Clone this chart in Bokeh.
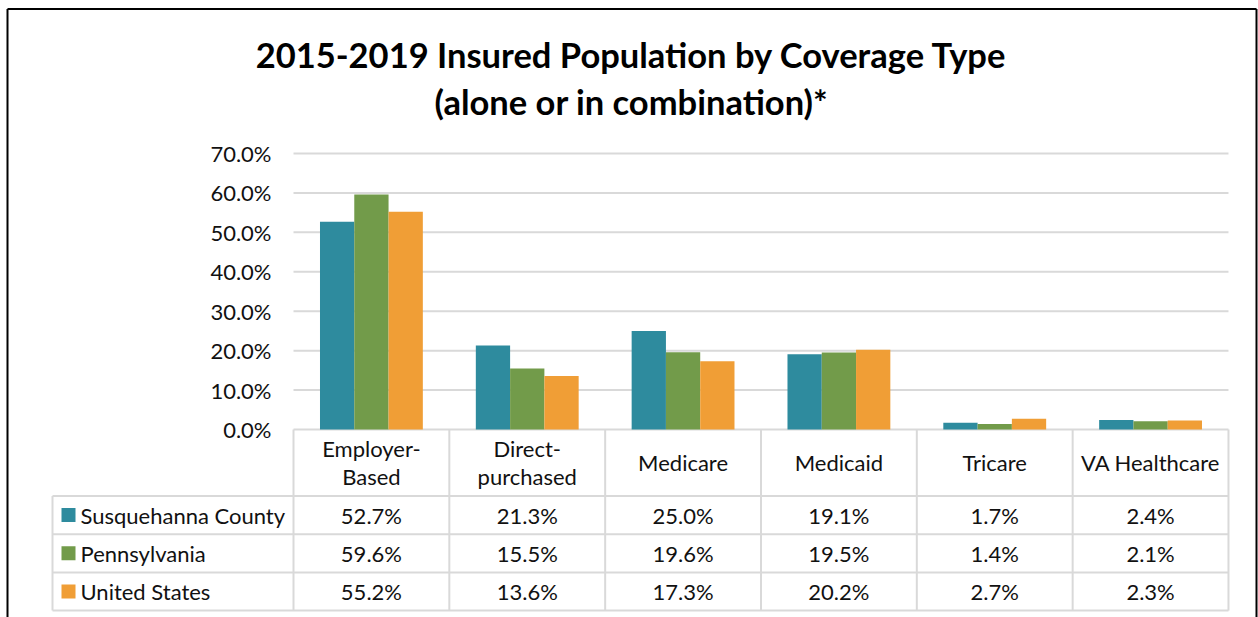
from bokeh.plotting import figure
from bokeh.models import Range1d, FixedTicker, NumeralTickFormatter
from bokeh.core.properties import value
from bokeh.embed import file_html
from bokeh.resources import INLINE

# ---------------- data ----------------
title_lines = ["2015-2019 Insured Population by Coverage Type", "(alone or in combination)*"]
categories = ["Employer-\nBased", "Direct-\npurchased", "Medicare", "Medicaid", "Tricare", "VA Healthcare"]
series_names = ["Susquehanna County", "Pennsylvania", "United States"]
susquehanna = [52.7, 21.3, 25.0, 19.1, 1.7, 2.4]
pennsylvania = [59.6, 15.5, 19.6, 19.5, 1.4, 2.1]
united_states = [55.2, 13.6, 17.3, 20.2, 2.7, 2.3]
y_ticks = [0.0, 0.1, 0.2, 0.3, 0.4, 0.5, 0.6, 0.7]

series_values = [susquehanna, pennsylvania, united_states]
colors = ["#2E8B9E", "#729B4A", "#F09E36"]

# ---------------- layout (pixels) ----------------
W, H = 1258, 617
col_left = 293.0
col_w = 155.83
zero_y = 429.0
px_per_unit = 276.0 / 0.7   # 0 -> 429, 0.7 -> 153
header_bottom = 495.5
row_h = 38.2
legend_left = 52.0
FONT = value("Lato")
FS = "22px"
TXT = "#111111"
GRID = "#D9D9D9"

n = len(categories)
x_start = (0 - col_left) / col_w
x_end = (W - col_left) / col_w
y_start = (zero_y - H) / px_per_unit
y_end = zero_y / px_per_unit

p = figure(width=W, height=H, title=None,
           x_range=Range1d(x_start, x_end), y_range=Range1d(y_start, y_end),
           output_backend="svg", toolbar_location=None, min_border=0)
p.extra_x_ranges = {"px": Range1d(0, W)}
p.extra_y_ranges = {"px": Range1d(H, 0)}
p.outline_line_color = None
p.background_fill_color = "white"
p.border_fill_color = "white"
p.xgrid.visible = False
p.ygrid.visible = False
p.xaxis.visible = False

yax = p.yaxis[0]
yax.fixed_location = 0
yax.ticker = FixedTicker(ticks=y_ticks)
yax.formatter = NumeralTickFormatter(format="0.0%")
yax.axis_line_color = None
yax.major_tick_line_color = None
yax.minor_tick_line_color = None
yax.major_tick_out = 0
yax.major_label_standoff = 22
yax.major_label_text_font = "Lato"
yax.major_label_text_font_size = FS
yax.major_label_text_color = TXT

# gridlines across the plot columns only
p.segment(x0=[0] * len(y_ticks), x1=[n] * len(y_ticks), y0=y_ticks, y1=y_ticks,
          line_color=GRID, line_width=2)

# bars
offsets = [-0.22, 0.0, 0.22]
for vals, off, col in zip(series_values, offsets, colors):
    p.vbar(x=[i + 0.5 + off for i in range(n)], top=[v / 100 for v in vals],
           width=0.22, bottom=0, fill_color=col, line_color=None)

# ---------------- data table ----------------
col_edges = [col_left + i * col_w for i in range(n + 1)]
row_lines = [header_bottom + k * row_h for k in range(len(series_names) + 1)]
bottom = row_lines[-1]

p.segment(x0=col_edges, x1=col_edges, y0=[zero_y] * len(col_edges), y1=[bottom] * len(col_edges),
          line_color=GRID, line_width=2, x_range_name="px", y_range_name="px")
p.segment(x0=[legend_left], x1=[legend_left], y0=[header_bottom], y1=[bottom],
          line_color=GRID, line_width=2, x_range_name="px", y_range_name="px")
p.segment(x0=[legend_left] * len(row_lines), x1=[col_edges[-1]] * len(row_lines), y0=row_lines, y1=row_lines,
          line_color=GRID, line_width=2, x_range_name="px", y_range_name="px")

centers = [col_left + (i + 0.5) * col_w for i in range(n)]
p.text(x=centers, y=[(zero_y + header_bottom) / 2] * n, text=categories,
       text_font=FONT, text_font_size=FS, text_color=TXT, text_align="center",
       text_baseline="middle", text_line_height=1.03, x_range_name="px", y_range_name="px")

for r, (name, vals, col) in enumerate(zip(series_names, series_values, colors)):
    yc = header_bottom + (r + 0.5) * row_h
    p.text(x=centers, y=[yc] * n, text=[f"{v:.1f}%" for v in vals],
           text_font=FONT, text_font_size=FS, text_color=TXT, text_align="center",
           text_baseline="middle", x_range_name="px", y_range_name="px")
    p.rect(x=[legend_left + 16], y=[yc], width=14, height=14, fill_color=col, line_color=None,
           x_range_name="px", y_range_name="px")
    p.text(x=[legend_left + 28], y=[yc], text=[name],
           text_font=FONT, text_font_size=FS, text_color=TXT, text_align="left",
           text_baseline="middle", x_range_name="px", y_range_name="px")

# title
p.text(x=[631, 631], y=[54, 101], text=title_lines, text_font=FONT, text_font_style="bold",
       text_font_size="34.5px", text_color="#000000", text_align="center", text_baseline="middle",
       x_range_name="px", y_range_name="px")

# chart border (left, top, right)
p.segment(x0=[7, 7, 1256], x1=[7, 1256, 1256], y0=[8.5, 8.5, 8.5], y1=[H, 8.5, H],
          line_color="#000000", line_width=2, x_range_name="px", y_range_name="px")

open("out.html", "w").write(file_html(p, INLINE))
